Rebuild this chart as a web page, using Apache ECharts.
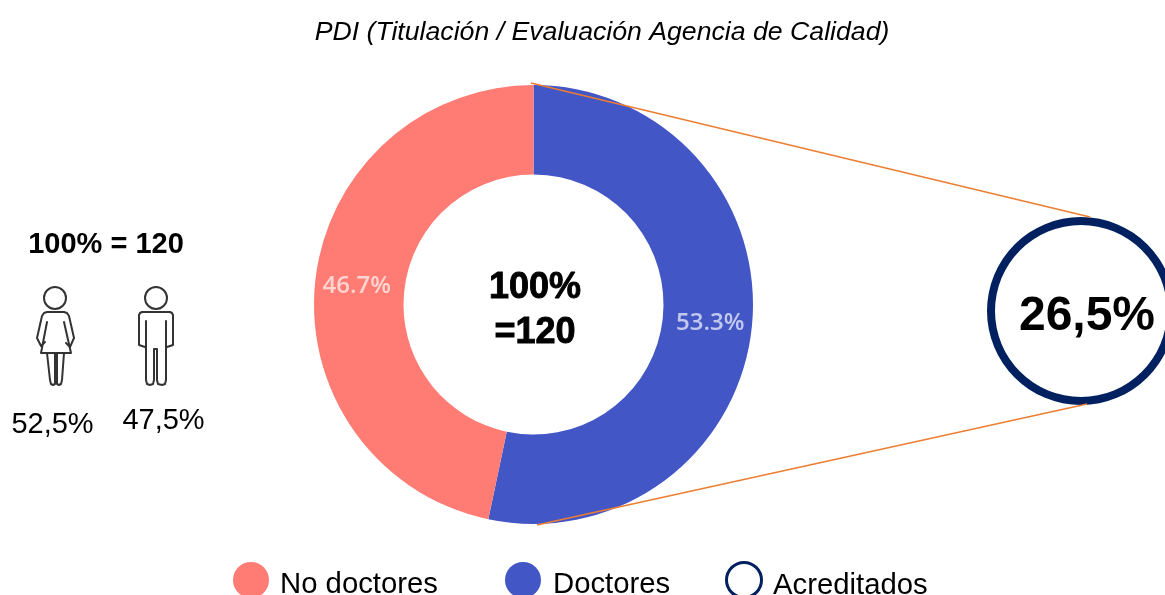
<!DOCTYPE html>
<html><head><meta charset="utf-8">
<style>html,body{margin:0;padding:0;background:#fff}#c{width:1165px;height:595px}</style>
<script src="https://cdn.jsdelivr.net/npm/echarts@6/dist/echarts.min.js"></script>
</head><body><div id="c"></div>
<script>
var titleText = 'PDI (Titulación / Evaluación Agencia de Calidad)';
var categories = ['Doctores', 'No doctores'];
var values = [53.3, 46.7];
var valueLabels = ['53.3%', '46.7%'];
var sliceColors = ['#4256C6', '#FF7C75'];
var totalLabel = ['100%', '=120'];
var sideTotal = '100% = 120';
var genderLabels = ['52,5%', '47,5%'];
var accreditedName = 'Acreditados';
var accreditedValue = 26.5;
var accreditedLabel = '26,5%';
var navy = '#002060';
var orange = '#ED7D31';
var FONT = '"Liberation Sans", Arial, sans-serif';

function txt(t, x, y, size, opt) {
  opt = opt || {};
  var st = {
    text: t, fill: opt.fill || '#000', font: (opt.italic ? 'italic ' : '') + (opt.bold ? 'bold ' : '') + size + 'px ' + FONT,
    textAlign: opt.align || 'center', textVerticalAlign: 'middle' };
  if (opt.heavy) { st.stroke = '#000'; st.lineWidth = opt.heavy; }
  return { type: 'text', x: x, y: y, z: 20, silent: true, style: st };
}
function line(x1, y1, x2, y2) {
  return { type: 'line', z: 20, silent: true, shape: { x1: x1, y1: y1, x2: x2, y2: y2 }, style: { stroke: orange, lineWidth: 1.4 } };
}
function dot(cx, cy, r, fill, stroke, lw) {
  return { type: 'circle', z: 20, silent: true, shape: { cx: cx, cy: cy, r: r }, style: { fill: fill, stroke: stroke || null, lineWidth: lw || 0 } };
}
function stroke(points) {
  return { type: 'polyline', z: 20, silent: true, shape: { points: points }, style: { fill: 'none', stroke: '#333', lineWidth: 2, lineJoin: 'round', lineCap: 'round' } };
}
var womanStrokes = [
  [[66,343],[70,347],[74,338],[69,316],[67,313],[64,312],[47,312],[44,313],[42,316],[37,338],[41,346],[45,342]],
  [[47,322],[41,353],[71,353],[64,322]],
  [[47,353],[50,380],[51,384],[53,385],[55,384],[55,353]],
  [[64,353],[62,380],[61,384],[59,385],[57,384],[57,353]]
];
var manStrokes = [
  [[145,347],[139,345],[139,315],[140,313],[142,312],[170,312],[172,313],[173,315],[173,345],[167,347]],
  [[146,321],[146,380],[147,384],[150,385],[153,384],[154,380],[154,349],[157,349],[157,380],[158,384],[162,385],[165,384],[166,380],[166,321]]
];

var chart = echarts.init(document.getElementById('c'));
chart.setOption({
  backgroundColor: '#fff',
  animation: false,
  series: [
    {
      type: 'pie', name: 'PDI', center: [533.5, 304.5], radius: [130, 219.5], startAngle: 90, clockwise: true, silent: true,
      label: { show: true, position: 'inside', color: 'rgba(255,255,255,0.68)', fontFamily: '"Open Sans", sans-serif', fontSize: 24, fontWeight: 600,
        formatter: function (p) { return valueLabels[p.dataIndex]; } },
      labelLine: { show: false },
      data: categories.map(function (c, i) { return { name: c, value: values[i], itemStyle: { color: sliceColors[i] } }; })
    },
    {
      type: 'pie', name: accreditedName, center: [1081, 311], radius: [86, 94], silent: true,
      label: { show: true, position: 'center', color: '#000', fontFamily: FONT, fontSize: 48, fontWeight: 'bold', offset: [6, 6], formatter: accreditedLabel },
      labelLine: { show: false },
      data: [{ name: accreditedName, value: accreditedValue, itemStyle: { color: navy } }]
    }
  ],
  graphic: { elements: [
    txt(titleText, 602, 33, 26.67, { italic: true }),
    line(531, 83, 1090, 217),
    line(537, 525, 1087, 404),
    txt(totalLabel[0], 535, 288, 36, { bold: true, heavy: 0.9 }),
    txt(totalLabel[1], 535, 333, 36, { bold: true, heavy: 0.9 }),
    txt(sideTotal, 106, 245, 29, { bold: true }),
    dot(55, 298, 11, 'none', '#333', 2),
    dot(156, 298, 11, 'none', '#333', 2)
  ].concat(womanStrokes.map(stroke), manStrokes.map(stroke), [
    txt(genderLabels[0], 52.5, 425, 29),
    txt(genderLabels[1], 163.5, 421, 29),
    dot(251, 580, 18, sliceColors[1]),
    txt(categories[1], 280, 585, 29.3, { align: 'left' }),
    dot(523, 580, 18, sliceColors[0]),
    txt(categories[0], 553, 585, 29.3, { align: 'left' }),
    dot(744, 580, 17.5, '#fff', navy, 3),
    txt(accreditedName, 773, 586, 29.3, { align: 'left' })
  ]) }
});
</script></body></html>
